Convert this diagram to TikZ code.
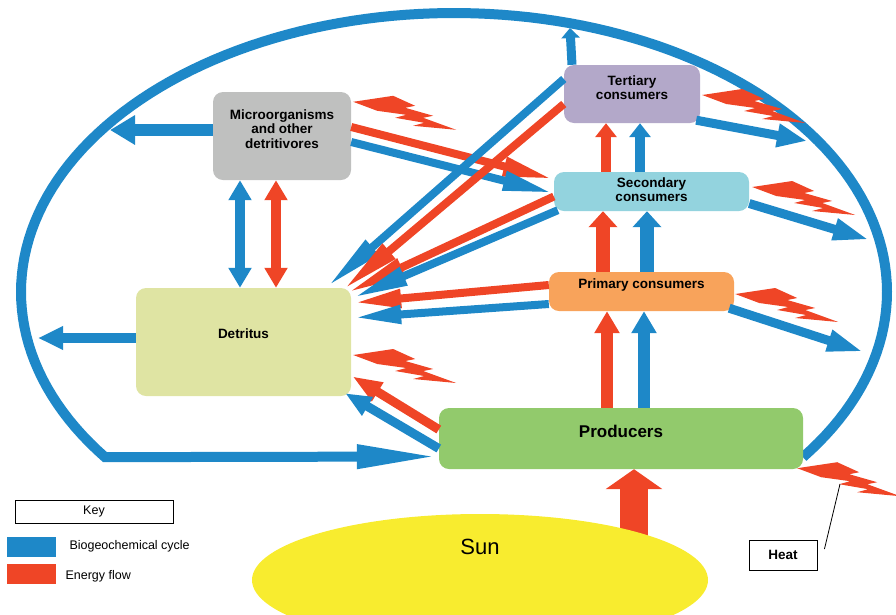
\documentclass[tikz,border=0pt]{standalone}
\usepackage{fontspec}
\setmainfont{Liberation Sans}
\usetikzlibrary{arrows.meta,calc,shapes.geometric,backgrounds}
\definecolor{cyc}{HTML}{1E88C8}
\definecolor{nrg}{HTML}{EF4526}
\definecolor{microc}{HTML}{BFC0BF}
\definecolor{detrc}{HTML}{DFE4A3}
\definecolor{tertc}{HTML}{B3A8C9}
\definecolor{secc}{HTML}{93D3DE}
\definecolor{primc}{HTML}{F8A35B}
\definecolor{prodc}{HTML}{92CA6C}
\definecolor{sunc}{HTML}{F8EC2F}
\begin{document}
\begin{tikzpicture}[x=1pt,y=-1pt,
  box/.style={rounded corners=10pt,inner sep=0pt},
  boxtxt/.style={font=\bfseries\fontsize{13.5}{14.5}\selectfont,align=center},
  bio/.style={draw=cyc,line width=#1},
  nrgl/.style={draw=nrg,line width=#1},
  ahead/.style 2 args={-{Triangle[length=#1,width=#2]}},
  bihead/.style 2 args={{Triangle[length=#1,width=#2]}-{Triangle[length=#1,width=#2]}},
  keytxt/.style={anchor=west,font=\fontsize{12.5}{14}\selectfont},
  bolt/.pic={\fill[nrg] (0,0)--(40,-6)--(62,4)--(52,6)--(80,14)--(70,16)--(103,28)--(60,24)--(71,21)--(42,16)--(53,13)--(24,9)--cycle;}]
\useasboundingbox (0,0) rectangle (896,614);

\node[box,fill=microc,minimum width=138pt,minimum height=88pt,label={[boxtxt,yshift=7pt]center:Microorganisms\\and other\\detritivores}] (micro) at (282,136) {};
\node[box,fill=detrc,minimum width=215pt,minimum height=108pt,label={[boxtxt,yshift=8pt]center:Detritus}] (detr) at (243.5,342) {};
\node[box,fill=tertc,minimum width=136pt,minimum height=58pt,label={[boxtxt,yshift=6.5pt]center:Tertiary\\consumers}] (tert) at (632,94) {};
\node[box,fill=secc,minimum width=195pt,minimum height=39pt,label={[boxtxt,yshift=2pt]center:Secondary\\consumers}] (sec) at (651.5,191.5) {};
\node[box,fill=primc,minimum width=185pt,minimum height=39pt,label={[boxtxt,yshift=6.5pt]center:Primary consumers}] (prim) at (641.5,291.5) {};
\node[box,fill=prodc,minimum width=364pt,minimum height=61pt,label={[font=\bfseries\fontsize{17}{19}\selectfont,yshift=7.5pt]center:Producers}] (prod) at (621,438.5) {};
\node[ellipse,fill=sunc,inner sep=0pt,minimum width=456pt,minimum height=132pt,label={[font=\fontsize{22}{24}\selectfont,yshift=33pt]center:Sun}] (sun) at (480,580) {};

\node[draw,line width=0.9pt,inner sep=0pt,minimum width=158pt,minimum height=23pt,font=\fontsize{12.5}{14}\selectfont] (key) at (94,511.5) {Key};
\node[fill=cyc,inner sep=0pt,minimum width=49pt,minimum height=20pt] (kbio) at (31.5,547) {};
\node[fill=nrg,inner sep=0pt,minimum width=49pt,minimum height=20pt] (knrg) at (31.5,574) {};
\node[keytxt] (tbio) at (66,546) {Biogeochemical cycle};
\node[keytxt] (tnrg) at (62,576) {Energy flow};
\node[draw,line width=0.9pt,inner sep=0pt,minimum width=68pt,minimum height=30pt,font=\bfseries\fontsize{13.5}{14}\selectfont] (heat) at (783,555) {Heat};

\coordinate (ringL) at (110,130);
\coordinate (ringD) at (38,338);
\coordinate (ringT) at (570,28);
\coordinate (ringTr) at (807,141);
\coordinate (ringS) at (870,240);
\coordinate (ringP) at (864,352);
\coordinate (hb) at (840,484);

\begin{scope}[on background layer]
\draw[bio=10pt,ahead={82pt}{22pt}] plot[domain=396.3:143.7,samples=140] ({454+433*cos(\x)},{292+279*sin(\x)}) -- ($(prod.west)+(0,18)$);
\draw[nrgl=28pt,ahead={20pt}{56pt}] ($(sun.center)+(154,0)$) -- ($(prod.south)+(13,0)$);
\end{scope}

\draw[bio=12pt,ahead={25pt}{28pt}] ($(micro.west)+(0,-6)$) -- (ringL);
\draw[bio=10pt,ahead={25pt}{22pt}] ($(detr.west)+(0,-4)$) -- (ringD);
\draw[bio=10pt,bihead={20pt}{22pt}] ($(micro.south)+(-42,0)$) -- ($(detr.north)+(-3.5,0)$);
\draw[nrgl=10pt,bihead={20pt}{22pt}] ($(micro.south)+(-6,0)$) -- ($(detr.north)+(32.5,0)$);

\draw[bio=9pt,ahead={10pt}{18pt}] ($(tert.north)+(-60,0)$) -- (ringT);
\draw[bio=9pt,ahead={30pt}{22pt}] ($(tert.south east)+(-4,-3)$) -- (ringTr);
\draw[bio=9pt,ahead={37pt}{20pt}] ($(sec.east)+(0,12)$) -- (ringS);
\draw[bio=9pt,ahead={37pt}{20pt}] ($(prim.south east)+(-5,-3)$) -- (ringP);

\draw[nrgl=8pt,ahead={50pt}{18pt}] ($(micro.east)+(0,-9)$) -- ($(sec.west)+(-1,-12.5)$);
\draw[bio=8pt,ahead={50pt}{18pt}] ($(micro.east)+(0,6)$) -- ($(sec.west)+(-1,1.5)$);

\draw[bio=8pt,ahead={60pt}{18pt}] ($(tert.west)+(0,-15)$) -- ($(detr.north east)+(-24,-1)$);
\draw[nrgl=8pt,ahead={60pt}{18pt}] ($(tert.west)+(0,10)$) -- ($(detr.north east)+(-8,2)$);
\draw[nrgl=8pt,ahead={60pt}{18pt}] ($(sec.west)+(0,5)$) -- ($(detr.north east)+(-4,5)$);
\draw[bio=8pt,ahead={55pt}{18pt}] ($(sec.south west)+(4,-1)$) -- ($(detr.north east)+(2,10)$);
\draw[nrgl=8pt,ahead={48pt}{17pt}] ($(prim.west)+(0,-6.5)$) -- ($(detr.north east)+(2,15)$);
\draw[bio=8pt,ahead={48pt}{17pt}] ($(prim.west)+(0,12.5)$) -- ($(detr.north east)+(2,30)$);
\draw[nrgl=9pt,ahead={30pt}{20pt}] ($(prod.west)+(0,-9)$) -- ($(detr.south east)+(1,-20)$);
\draw[bio=9pt,ahead={26pt}{20pt}] ($(prod.west)+(0,10)$) -- ($(detr.south east)+(-6,-3)$);

\draw[nrgl=12pt,ahead={22pt}{24pt}] ($(prod.north)+(-14,0)$) -- ($(prim.south)+(-34.5,0)$);
\draw[bio=12pt,ahead={22pt}{24pt}] ($(prod.north)+(23,0)$) -- ($(prim.south)+(2.5,0)$);
\draw[nrgl=14pt,ahead={16pt}{28pt}] ($(prim.north)+(-38.5,0)$) -- ($(sec.south)+(-48.5,0)$);
\draw[bio=14pt,ahead={16pt}{28pt}] ($(prim.north)+(5.5,0)$) -- ($(sec.south)+(-4.5,0)$);
\draw[nrgl=10pt,ahead={14pt}{21pt}] ($(sec.north)+(-45.5,0)$) -- ($(tert.south)+(-26,0)$);
\draw[bio=10pt,ahead={14pt}{21pt}] ($(sec.north)+(-11.5,0)$) -- ($(tert.south)+(8,0)$);

\pic at ($(micro.north east)+(2,10)$) {bolt};
\pic at ($(tert.east)+(2,1)$) {bolt};
\pic at ($(sec.east)+(3,-4.5)$) {bolt};
\pic at ($(prim.east)+(1,2.5)$) {bolt};
\pic at ($(detr.east)+(2,13)$) {bolt};
\pic at ($(prod.south east)+(-6,-1)$) {bolt};

\draw[line width=0.8pt] ($(heat.east)+(7,-6)$) -- (hb);
\end{tikzpicture}
\end{document}
